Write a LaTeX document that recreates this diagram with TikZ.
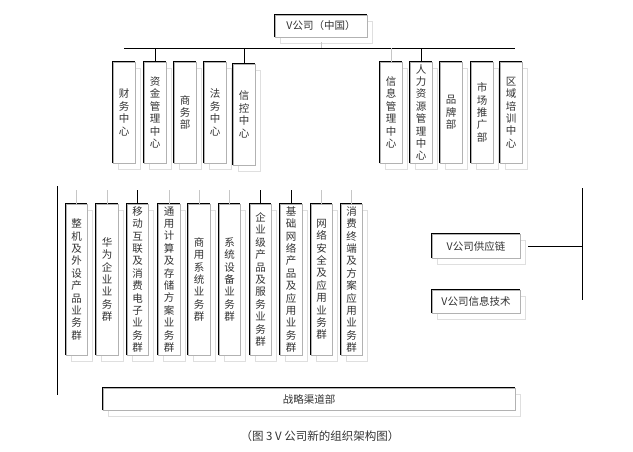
\documentclass[tikz,border=0pt]{standalone}
\usepackage{fontspec}
\setmainfont{Noto Sans CJK SC}
\begin{document}
\begin{tikzpicture}[x=1pt,y=-1pt,
  bx/.style={draw=gray!60,line width=0.6pt,inner sep=0pt,align=center,font=\fontsize{10.5}{12.4}\selectfont,text=black!80},
  blk/.style={draw=black,line width=0.8pt},
  shd/.style={draw=gray!25,line width=0.6pt},
  ln/.style={draw=black,line width=0.8pt},
  gln/.style={draw=gray!45,line width=0.6pt}]
\useasboundingbox (0,0) rectangle (633,451);
\newcommand{\bx}[6]{%
  \draw[shd] (#2+5,#3+6) rectangle (#4+5,#5+6);
  \node[bx,fill=white,minimum width=#4-#2,minimum height=#5-#3] (#1) at ({(#2+#4)/2},{(#3+#5)/2}) {#6};
  \draw[blk] (#1.south west)--(#1.north west)--(#1.north east);}
% top
\bx{top}{275}{15}{367}{37}{V公司（中国）}
\draw[ln] (124,48) coordinate (hl) -- (515,48) coordinate (hr);
\draw[gln] (321,42)--(321,48);
% upper boxes
\bx{u1}{113}{62}{135}{163}{财\\务\\中\\心}
\bx{u2}{144}{62}{166}{163}{资\\金\\管\\理\\中\\心}
\bx{u3}{174}{62}{196}{163}{商\\务\\部}
\bx{u4}{204}{62}{226}{163}{法\\务\\中\\心}
\bx{u5}{233}{64}{255}{165}{信\\控\\中\\心}
\bx{u6}{380}{62}{402}{163}{信\\息\\管\\理\\中\\心}
\bx{u7}{410}{62}{432}{163}{人\\力\\资\\源\\管\\理\\中\\心}
\bx{u8}{440}{62}{462}{163}{品\\牌\\部}
\bx{u9}{471}{62}{493}{163}{市\\场\\推\\广\\部}
\bx{u10}{500}{62}{522}{163}{区\\域\\培\\训\\中\\心}
\foreach \n in {u2,u5,u7} \draw[ln] (\n.north) -- (\n.north|-hl);
\foreach \n in {u6} \draw[gln] (\n.north) -- (\n.north|-hl);
% lower boxes
\bx{l1}{66}{204}{87}{355}{整\\机\\及\\外\\设\\产\\品\\业\\务\\群}
\bx{l2}{96}{204}{118}{355}{华\\为\\企\\业\\业\\务\\群}
\bx{l3}{127}{204}{148}{355}{移\\动\\互\\联\\及\\消\\费\\电\\子\\业\\务\\群}
\bx{l4}{158}{204}{180}{355}{通\\用\\计\\算\\及\\存\\储\\方\\案\\业\\务\\群}
\bx{l5}{188}{204}{210}{355}{商\\用\\系\\统\\业\\务\\群}
\bx{l6}{219}{204}{240}{355}{系\\统\\设\\备\\业\\务\\群}
\bx{l7}{250}{204}{271}{355}{企\\业\\级\\产\\品\\及\\服\\务\\业\\务\\群}
\bx{l8}{280}{204}{302}{355}{基\\础\\网\\络\\产\\品\\及\\应\\用\\业\\务\\群}
\bx{l9}{311}{204}{332}{355}{网\\络\\安\\全\\及\\应\\用\\业\\务\\群}
\bx{l10}{341}{204}{362}{355}{消\\费\\终\\端\\及\\方\\案\\应\\用\\业\\务\\群}
\foreach \n in {l3,l7,l8} \draw[ln] (\n.north) -- ++(0,-14);
\foreach \n in {l1,l2,l4,l5,l6,l9,l10} \draw[gln] (\n.north) -- ++(0,-14);
\coordinate (vt) at (57,186); \coordinate (vb) at (57,395);
\draw[ln] (vt)--(vb);
% bottom
\bx{zl}{103}{388}{515}{410}{战略渠道部}
% right
\bx{gy}{432}{234}{520}{258}{V公司供应链}
\bx{xx}{432}{290}{520}{313}{V公司信息技术}
\coordinate (rt) at (582,188); \coordinate (rb) at (582,300);
\draw[ln] (rt)--(rb);
\draw[ln] (gy.east)++(8,0) -- (gy.east-|rt);
\node[font=\fontsize{11.5}{13}\selectfont,text=black!80] (cap) at (320,436) {（图 3 V 公司新的组织架构图）};
\end{tikzpicture}
\end{document}
